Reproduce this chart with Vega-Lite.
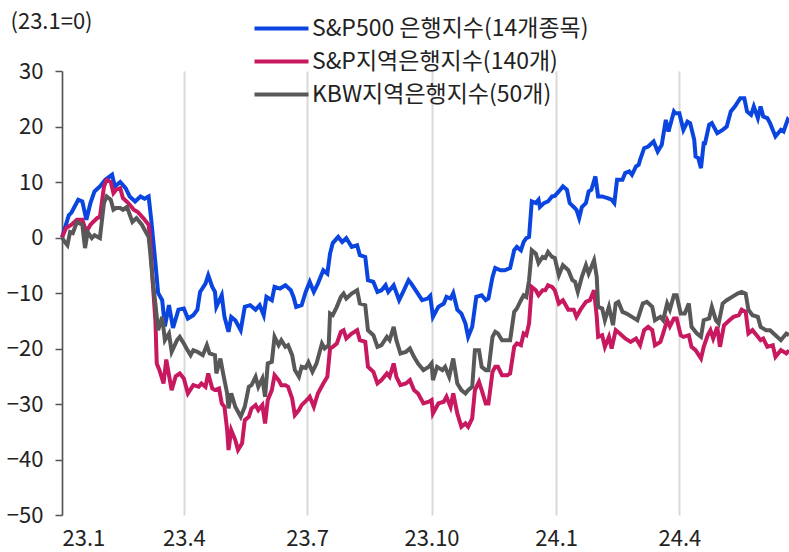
{
  "$schema": "https://vega.github.io/schema/vega-lite/v6.json",
  "width": 727,
  "height": 444,
  "autosize": {"type": "none"},
  "padding": {"left": 62, "top": 71, "right": 0, "bottom": 37},
  "config": {
    "font": "Noto Sans CJK KR",
    "view": {"stroke": null},
    "axis": {"labelFontSize": 22, "labelColor": "#222222", "titleFontWeight": "normal"}
  },
  "datasets": {
    "a": [
      {"date":"2023-01-01","v":0},{"date":"2023-01-06","v":4},{"date":"2023-01-08","v":4.5},{"date":"2023-01-13","v":6.8},{"date":"2023-01-16","v":6.5},{"date":"2023-01-19","v":3.2},{"date":"2023-01-22","v":6.2},{"date":"2023-01-25","v":8.3},{"date":"2023-01-29","v":9.2},{"date":"2023-02-02","v":10.4},{"date":"2023-02-07","v":11.3},{"date":"2023-02-09","v":9.2},{"date":"2023-02-13","v":10},{"date":"2023-02-17","v":8.9},{"date":"2023-02-20","v":7.4},{"date":"2023-02-24","v":6.5},{"date":"2023-02-28","v":7.4},{"date":"2023-03-03","v":7},{"date":"2023-03-06","v":7.4},{"date":"2023-03-08","v":3},{"date":"2023-03-11","v":-4.6},{"date":"2023-03-13","v":-10},{"date":"2023-03-16","v":-11.3},{"date":"2023-03-18","v":-16},{"date":"2023-03-21","v":-12.2},{"date":"2023-03-24","v":-16.3},{"date":"2023-03-28","v":-13},{"date":"2023-04-01","v":-12.8},{"date":"2023-04-04","v":-14.6},{"date":"2023-04-08","v":-14},{"date":"2023-04-11","v":-13},{"date":"2023-04-13","v":-9.8},{"date":"2023-04-17","v":-8.3},{"date":"2023-04-19","v":-6.8},{"date":"2023-04-22","v":-8.9},{"date":"2023-04-24","v":-9.8},{"date":"2023-04-25","v":-12.5},{"date":"2023-04-29","v":-10.4},{"date":"2023-05-01","v":-14.3},{"date":"2023-05-04","v":-17},{"date":"2023-05-06","v":-14.3},{"date":"2023-05-09","v":-14.9},{"date":"2023-05-13","v":-16.7},{"date":"2023-05-16","v":-12.5},{"date":"2023-05-20","v":-12.2},{"date":"2023-05-24","v":-13},{"date":"2023-05-27","v":-12.2},{"date":"2023-05-30","v":-14},{"date":"2023-06-01","v":-10.7},{"date":"2023-06-05","v":-11.3},{"date":"2023-06-07","v":-8.9},{"date":"2023-06-11","v":-9.2},{"date":"2023-06-15","v":-8.6},{"date":"2023-06-19","v":-9.5},{"date":"2023-06-21","v":-10.7},{"date":"2023-06-23","v":-12.5},{"date":"2023-06-27","v":-12.2},{"date":"2023-06-30","v":-9.8},{"date":"2023-07-03","v":-8},{"date":"2023-07-06","v":-9.8},{"date":"2023-07-09","v":-8.3},{"date":"2023-07-13","v":-5.9},{"date":"2023-07-16","v":-6.5},{"date":"2023-07-18","v":-2.9},{"date":"2023-07-20","v":-1},{"date":"2023-07-24","v":0.1},{"date":"2023-07-27","v":-0.8},{"date":"2023-07-30","v":-0.1},{"date":"2023-08-03","v":-1.7},{"date":"2023-08-07","v":-1.4},{"date":"2023-08-09","v":-3.2},{"date":"2023-08-13","v":-3.5},{"date":"2023-08-15","v":-7.7},{"date":"2023-08-19","v":-8},{"date":"2023-08-22","v":-9.8},{"date":"2023-08-25","v":-9.5},{"date":"2023-08-28","v":-8.6},{"date":"2023-08-30","v":-9.8},{"date":"2023-09-03","v":-8.6},{"date":"2023-09-07","v":-11.3},{"date":"2023-09-10","v":-9.8},{"date":"2023-09-14","v":-7.7},{"date":"2023-09-16","v":-8.3},{"date":"2023-09-20","v":-9.8},{"date":"2023-09-24","v":-11.3},{"date":"2023-09-28","v":-11},{"date":"2023-09-30","v":-10.5},{"date":"2023-10-02","v":-14.3},{"date":"2023-10-06","v":-12.5},{"date":"2023-10-10","v":-11.9},{"date":"2023-10-12","v":-10.7},{"date":"2023-10-15","v":-11},{"date":"2023-10-17","v":-10},{"date":"2023-10-20","v":-13},{"date":"2023-10-23","v":-13.7},{"date":"2023-10-26","v":-15.5},{"date":"2023-10-28","v":-17.9},{"date":"2023-10-31","v":-16.1},{"date":"2023-11-03","v":-10.7},{"date":"2023-11-07","v":-10.4},{"date":"2023-11-10","v":-11.3},{"date":"2023-11-12","v":-11},{"date":"2023-11-15","v":-7.1},{"date":"2023-11-17","v":-5.5},{"date":"2023-11-21","v":-5.9},{"date":"2023-11-24","v":-5.9},{"date":"2023-11-28","v":-5.5},{"date":"2023-12-01","v":-2.3},{"date":"2023-12-03","v":-1.7},{"date":"2023-12-06","v":-2.3},{"date":"2023-12-08","v":-0.8},{"date":"2023-12-10","v":-0.1},{"date":"2023-12-12","v":0.1},{"date":"2023-12-14","v":6.5},{"date":"2023-12-17","v":6.2},{"date":"2023-12-19","v":6.8},{"date":"2023-12-20","v":5.5},{"date":"2023-12-23","v":6.2},{"date":"2023-12-26","v":6.5},{"date":"2023-12-29","v":7.4},{"date":"2023-12-31","v":7.5},{"date":"2024-01-03","v":8.3},{"date":"2024-01-06","v":9.2},{"date":"2024-01-09","v":8.6},{"date":"2024-01-11","v":6.2},{"date":"2024-01-14","v":5.5},{"date":"2024-01-16","v":5},{"date":"2024-01-18","v":3.5},{"date":"2024-01-20","v":5.5},{"date":"2024-01-23","v":6.2},{"date":"2024-01-25","v":8.3},{"date":"2024-01-27","v":8.6},{"date":"2024-01-30","v":11},{"date":"2024-02-01","v":7.4},{"date":"2024-02-04","v":7.4},{"date":"2024-02-08","v":7.1},{"date":"2024-02-11","v":6.8},{"date":"2024-02-13","v":6.2},{"date":"2024-02-15","v":10.4},{"date":"2024-02-19","v":10.4},{"date":"2024-02-21","v":11.6},{"date":"2024-02-24","v":11.9},{"date":"2024-02-26","v":11.3},{"date":"2024-02-29","v":12.8},{"date":"2024-03-02","v":13.1},{"date":"2024-03-03","v":14},{"date":"2024-03-06","v":16.1},{"date":"2024-03-09","v":16.4},{"date":"2024-03-13","v":17.3},{"date":"2024-03-16","v":15.5},{"date":"2024-03-19","v":16.7},{"date":"2024-03-22","v":21.2},{"date":"2024-03-24","v":19.1},{"date":"2024-03-28","v":22.7},{"date":"2024-03-29","v":22.4},{"date":"2024-04-01","v":22.4},{"date":"2024-04-04","v":19.4},{"date":"2024-04-07","v":20.9},{"date":"2024-04-09","v":20.6},{"date":"2024-04-12","v":17.6},{"date":"2024-04-13","v":14.6},{"date":"2024-04-15","v":14.3},{"date":"2024-04-17","v":12.5},{"date":"2024-04-19","v":17},{"date":"2024-04-20","v":17},{"date":"2024-04-23","v":20.3},{"date":"2024-04-25","v":20.6},{"date":"2024-04-29","v":18.8},{"date":"2024-05-03","v":19.4},{"date":"2024-05-06","v":20},{"date":"2024-05-09","v":22.7},{"date":"2024-05-12","v":23.6},{"date":"2024-05-16","v":25.1},{"date":"2024-05-19","v":25.1},{"date":"2024-05-21","v":22.7},{"date":"2024-05-24","v":22.1},{"date":"2024-05-26","v":23.6},{"date":"2024-05-29","v":21.5},{"date":"2024-05-31","v":23.6},{"date":"2024-06-02","v":21.8},{"date":"2024-06-05","v":21.5},{"date":"2024-06-07","v":20.6},{"date":"2024-06-11","v":18.2},{"date":"2024-06-15","v":19.4},{"date":"2024-06-17","v":19.1},{"date":"2024-06-20","v":21.2},{"date":"2024-06-21","v":20.9}
    ],
    "b": [
      {"date":"2023-01-01","v":0},{"date":"2023-01-04","v":1.7},{"date":"2023-01-08","v":2.3},{"date":"2023-01-12","v":3.2},{"date":"2023-01-16","v":3.2},{"date":"2023-01-19","v":1},{"date":"2023-01-22","v":2.3},{"date":"2023-01-24","v":2.8},{"date":"2023-01-27","v":3.5},{"date":"2023-01-29","v":3.7},{"date":"2023-02-01","v":9.2},{"date":"2023-02-03","v":10.4},{"date":"2023-02-06","v":10},{"date":"2023-02-08","v":8},{"date":"2023-02-10","v":8.6},{"date":"2023-02-13","v":8.9},{"date":"2023-02-15","v":7.1},{"date":"2023-02-19","v":6.2},{"date":"2023-02-23","v":5},{"date":"2023-02-26","v":4.6},{"date":"2023-03-02","v":3.5},{"date":"2023-03-06","v":2.3},{"date":"2023-03-07","v":0},{"date":"2023-03-09","v":-8},{"date":"2023-03-11","v":-15},{"date":"2023-03-12","v":-22.7},{"date":"2023-03-14","v":-23.9},{"date":"2023-03-17","v":-26.3},{"date":"2023-03-19","v":-22},{"date":"2023-03-23","v":-27.5},{"date":"2023-03-26","v":-25},{"date":"2023-03-29","v":-24.5},{"date":"2023-04-01","v":-25.4},{"date":"2023-04-04","v":-28.1},{"date":"2023-04-08","v":-26.6},{"date":"2023-04-12","v":-26.9},{"date":"2023-04-14","v":-26.3},{"date":"2023-04-17","v":-26.9},{"date":"2023-04-19","v":-24.5},{"date":"2023-04-22","v":-27.2},{"date":"2023-04-24","v":-27.5},{"date":"2023-04-27","v":-27.2},{"date":"2023-04-29","v":-29.9},{"date":"2023-05-01","v":-30.5},{"date":"2023-05-03","v":-34.7},{"date":"2023-05-04","v":-38.3},{"date":"2023-05-06","v":-34.7},{"date":"2023-05-09","v":-36.5},{"date":"2023-05-11","v":-38.3},{"date":"2023-05-14","v":-37.1},{"date":"2023-05-16","v":-32.9},{"date":"2023-05-19","v":-32.3},{"date":"2023-05-21","v":-30.8},{"date":"2023-05-24","v":-30.2},{"date":"2023-05-26","v":-31.1},{"date":"2023-05-29","v":-30.2},{"date":"2023-05-31","v":-33.5},{"date":"2023-06-02","v":-29.3},{"date":"2023-06-05","v":-27.5},{"date":"2023-06-07","v":-24.8},{"date":"2023-06-10","v":-25.7},{"date":"2023-06-12","v":-26.6},{"date":"2023-06-15","v":-26.6},{"date":"2023-06-17","v":-26.9},{"date":"2023-06-20","v":-29},{"date":"2023-06-22","v":-32},{"date":"2023-06-25","v":-31.1},{"date":"2023-06-27","v":-30.2},{"date":"2023-06-30","v":-29.5},{"date":"2023-07-03","v":-28.7},{"date":"2023-07-06","v":-30.5},{"date":"2023-07-09","v":-28.1},{"date":"2023-07-13","v":-26.3},{"date":"2023-07-16","v":-25.1},{"date":"2023-07-18","v":-20},{"date":"2023-07-20","v":-19.7},{"date":"2023-07-23","v":-19.1},{"date":"2023-07-26","v":-17},{"date":"2023-07-28","v":-16.7},{"date":"2023-07-30","v":-18.2},{"date":"2023-08-03","v":-17.3},{"date":"2023-08-07","v":-16.7},{"date":"2023-08-09","v":-18.5},{"date":"2023-08-13","v":-18.8},{"date":"2023-08-15","v":-23.3},{"date":"2023-08-19","v":-24.2},{"date":"2023-08-22","v":-26.3},{"date":"2023-08-25","v":-25.7},{"date":"2023-08-29","v":-24.5},{"date":"2023-08-31","v":-25.1},{"date":"2023-09-03","v":-22.7},{"date":"2023-09-05","v":-25.1},{"date":"2023-09-08","v":-26.6},{"date":"2023-09-12","v":-26.3},{"date":"2023-09-15","v":-25.7},{"date":"2023-09-18","v":-27.5},{"date":"2023-09-21","v":-28.1},{"date":"2023-09-25","v":-29.9},{"date":"2023-09-29","v":-29.6},{"date":"2023-10-01","v":-29.3},{"date":"2023-10-02","v":-31.7},{"date":"2023-10-06","v":-29.9},{"date":"2023-10-10","v":-29.6},{"date":"2023-10-12","v":-28.7},{"date":"2023-10-15","v":-30.5},{"date":"2023-10-17","v":-28.1},{"date":"2023-10-20","v":-31.7},{"date":"2023-10-23","v":-34.1},{"date":"2023-10-26","v":-33.5},{"date":"2023-10-28","v":-34.1},{"date":"2023-10-31","v":-32.6},{"date":"2023-11-02","v":-27.5},{"date":"2023-11-05","v":-26},{"date":"2023-11-07","v":-27.5},{"date":"2023-11-10","v":-29.9},{"date":"2023-11-12","v":-29.9},{"date":"2023-11-15","v":-24.2},{"date":"2023-11-17","v":-23.3},{"date":"2023-11-19","v":-23.3},{"date":"2023-11-22","v":-24.8},{"date":"2023-11-26","v":-24.8},{"date":"2023-11-28","v":-24.5},{"date":"2023-12-01","v":-19.7},{"date":"2023-12-03","v":-19.1},{"date":"2023-12-06","v":-19.4},{"date":"2023-12-08","v":-17.3},{"date":"2023-12-10","v":-17.6},{"date":"2023-12-12","v":-15.5},{"date":"2023-12-14","v":-8.9},{"date":"2023-12-17","v":-9.5},{"date":"2023-12-19","v":-10.4},{"date":"2023-12-22","v":-9.5},{"date":"2023-12-24","v":-9.5},{"date":"2023-12-26","v":-8.6},{"date":"2023-12-29","v":-8.9},{"date":"2023-12-31","v":-9.5},{"date":"2024-01-03","v":-11.9},{"date":"2024-01-06","v":-11.3},{"date":"2024-01-10","v":-13},{"date":"2024-01-14","v":-13},{"date":"2024-01-16","v":-14.3},{"date":"2024-01-19","v":-13},{"date":"2024-01-23","v":-11.6},{"date":"2024-01-26","v":-11.3},{"date":"2024-01-29","v":-9.5},{"date":"2024-01-31","v":-14.3},{"date":"2024-02-01","v":-17.9},{"date":"2024-02-04","v":-17.6},{"date":"2024-02-06","v":-19.7},{"date":"2024-02-09","v":-17.9},{"date":"2024-02-11","v":-20},{"date":"2024-02-14","v":-16.7},{"date":"2024-02-17","v":-17.3},{"date":"2024-02-21","v":-18.2},{"date":"2024-02-25","v":-18.8},{"date":"2024-02-29","v":-18.2},{"date":"2024-03-03","v":-19.4},{"date":"2024-03-06","v":-16.7},{"date":"2024-03-09","v":-16.1},{"date":"2024-03-12","v":-16.7},{"date":"2024-03-14","v":-19.4},{"date":"2024-03-18","v":-18.8},{"date":"2024-03-20","v":-17.3},{"date":"2024-03-23","v":-14.9},{"date":"2024-03-25","v":-16},{"date":"2024-03-28","v":-14.6},{"date":"2024-03-30","v":-14.6},{"date":"2024-04-02","v":-17.6},{"date":"2024-04-04","v":-17.9},{"date":"2024-04-08","v":-17.6},{"date":"2024-04-10","v":-19.7},{"date":"2024-04-13","v":-20.3},{"date":"2024-04-17","v":-21.8},{"date":"2024-04-19","v":-19.7},{"date":"2024-04-22","v":-17.6},{"date":"2024-04-24","v":-16.7},{"date":"2024-04-26","v":-18.2},{"date":"2024-04-29","v":-16.1},{"date":"2024-05-01","v":-19.7},{"date":"2024-05-04","v":-15.8},{"date":"2024-05-08","v":-14.9},{"date":"2024-05-11","v":-14.3},{"date":"2024-05-15","v":-14},{"date":"2024-05-17","v":-13},{"date":"2024-05-20","v":-13.4},{"date":"2024-05-22","v":-17.3},{"date":"2024-05-25","v":-16.7},{"date":"2024-05-29","v":-17.9},{"date":"2024-05-31","v":-18.5},{"date":"2024-06-02","v":-18.2},{"date":"2024-06-05","v":-19.7},{"date":"2024-06-09","v":-19.4},{"date":"2024-06-11","v":-21.5},{"date":"2024-06-15","v":-20.3},{"date":"2024-06-19","v":-20.9},{"date":"2024-06-21","v":-20.3}
    ],
    "c": [
      {"date":"2023-01-01","v":0},{"date":"2023-01-03","v":-0.8},{"date":"2023-01-05","v":-1.4},{"date":"2023-01-07","v":1},{"date":"2023-01-09","v":0.8},{"date":"2023-01-12","v":2.8},{"date":"2023-01-16","v":2.3},{"date":"2023-01-18","v":-1.9},{"date":"2023-01-20","v":1},{"date":"2023-01-23","v":-0.1},{"date":"2023-01-25","v":0.4},{"date":"2023-01-29","v":-0.1},{"date":"2023-02-01","v":6.2},{"date":"2023-02-03","v":7.4},{"date":"2023-02-06","v":6.8},{"date":"2023-02-08","v":5},{"date":"2023-02-10","v":5.3},{"date":"2023-02-13","v":5.3},{"date":"2023-02-15","v":5},{"date":"2023-02-18","v":5.5},{"date":"2023-02-22","v":2.8},{"date":"2023-02-25","v":3.5},{"date":"2023-03-01","v":2.3},{"date":"2023-03-03","v":1.4},{"date":"2023-03-06","v":0.1},{"date":"2023-03-07","v":-2.3},{"date":"2023-03-09","v":-7.7},{"date":"2023-03-11","v":-12},{"date":"2023-03-13","v":-16.7},{"date":"2023-03-16","v":-14.3},{"date":"2023-03-18","v":-18.5},{"date":"2023-03-21","v":-17.3},{"date":"2023-03-23","v":-20.6},{"date":"2023-03-27","v":-18.5},{"date":"2023-03-29","v":-17.9},{"date":"2023-04-01","v":-19.1},{"date":"2023-04-03","v":-20},{"date":"2023-04-06","v":-21.2},{"date":"2023-04-08","v":-20.3},{"date":"2023-04-11","v":-20.6},{"date":"2023-04-13","v":-20.9},{"date":"2023-04-15","v":-21.2},{"date":"2023-04-18","v":-19.4},{"date":"2023-04-20","v":-20.9},{"date":"2023-04-24","v":-21.2},{"date":"2023-04-25","v":-24.5},{"date":"2023-04-28","v":-21.8},{"date":"2023-04-30","v":-24.5},{"date":"2023-05-03","v":-28.1},{"date":"2023-05-04","v":-30.8},{"date":"2023-05-06","v":-28.1},{"date":"2023-05-09","v":-30.5},{"date":"2023-05-13","v":-32.3},{"date":"2023-05-16","v":-30.5},{"date":"2023-05-19","v":-26.9},{"date":"2023-05-21","v":-26.6},{"date":"2023-05-24","v":-25.1},{"date":"2023-05-26","v":-26.9},{"date":"2023-05-29","v":-25.4},{"date":"2023-05-31","v":-28.7},{"date":"2023-06-02","v":-22.7},{"date":"2023-06-05","v":-22.4},{"date":"2023-06-07","v":-17.9},{"date":"2023-06-10","v":-19.4},{"date":"2023-06-12","v":-18.5},{"date":"2023-06-15","v":-19.7},{"date":"2023-06-17","v":-19.4},{"date":"2023-06-20","v":-21.2},{"date":"2023-06-22","v":-23.9},{"date":"2023-06-25","v":-25.1},{"date":"2023-06-27","v":-23.3},{"date":"2023-06-30","v":-23.5},{"date":"2023-07-02","v":-22.5},{"date":"2023-07-05","v":-24.2},{"date":"2023-07-08","v":-22.7},{"date":"2023-07-12","v":-19.1},{"date":"2023-07-14","v":-20},{"date":"2023-07-17","v":-19.4},{"date":"2023-07-18","v":-13.7},{"date":"2023-07-20","v":-14},{"date":"2023-07-23","v":-12.5},{"date":"2023-07-26","v":-10.7},{"date":"2023-07-28","v":-10.1},{"date":"2023-07-30","v":-11},{"date":"2023-08-03","v":-10.1},{"date":"2023-08-07","v":-9.5},{"date":"2023-08-09","v":-11.9},{"date":"2023-08-13","v":-12.2},{"date":"2023-08-15","v":-16.7},{"date":"2023-08-19","v":-17.6},{"date":"2023-08-22","v":-19.7},{"date":"2023-08-25","v":-19.4},{"date":"2023-08-29","v":-17.9},{"date":"2023-08-31","v":-18.5},{"date":"2023-09-03","v":-16.1},{"date":"2023-09-05","v":-18.5},{"date":"2023-09-08","v":-20.9},{"date":"2023-09-12","v":-20.6},{"date":"2023-09-15","v":-20},{"date":"2023-09-18","v":-21.5},{"date":"2023-09-21","v":-22.7},{"date":"2023-09-25","v":-23.9},{"date":"2023-09-29","v":-23.3},{"date":"2023-10-01","v":-22.7},{"date":"2023-10-02","v":-25.7},{"date":"2023-10-05","v":-23.3},{"date":"2023-10-09","v":-23.9},{"date":"2023-10-11","v":-23.3},{"date":"2023-10-14","v":-25.1},{"date":"2023-10-17","v":-21.8},{"date":"2023-10-20","v":-26.3},{"date":"2023-10-23","v":-27.5},{"date":"2023-10-26","v":-28.1},{"date":"2023-10-28","v":-27.5},{"date":"2023-10-31","v":-26.9},{"date":"2023-11-02","v":-20.3},{"date":"2023-11-05","v":-20.3},{"date":"2023-11-07","v":-23.3},{"date":"2023-11-10","v":-23.9},{"date":"2023-11-12","v":-23.9},{"date":"2023-11-15","v":-17.9},{"date":"2023-11-17","v":-17},{"date":"2023-11-19","v":-17.3},{"date":"2023-11-22","v":-18.5},{"date":"2023-11-26","v":-18.5},{"date":"2023-11-28","v":-18.5},{"date":"2023-12-01","v":-13.4},{"date":"2023-12-03","v":-12.8},{"date":"2023-12-06","v":-11.3},{"date":"2023-12-08","v":-10.4},{"date":"2023-12-10","v":-10.7},{"date":"2023-12-12","v":-7.7},{"date":"2023-12-14","v":-2.3},{"date":"2023-12-17","v":-2.9},{"date":"2023-12-19","v":-4.6},{"date":"2023-12-22","v":-3.5},{"date":"2023-12-24","v":-3.7},{"date":"2023-12-26","v":-2.6},{"date":"2023-12-29","v":-3.5},{"date":"2023-12-31","v":-3.7},{"date":"2024-01-03","v":-6.8},{"date":"2024-01-06","v":-5},{"date":"2024-01-10","v":-5.9},{"date":"2024-01-13","v":-7.7},{"date":"2024-01-15","v":-8},{"date":"2024-01-17","v":-9.8},{"date":"2024-01-20","v":-7.1},{"date":"2024-01-23","v":-5},{"date":"2024-01-25","v":-6.5},{"date":"2024-01-27","v":-5.3},{"date":"2024-01-29","v":-4.1},{"date":"2024-01-31","v":-7.1},{"date":"2024-02-01","v":-12.5},{"date":"2024-02-04","v":-12.8},{"date":"2024-02-06","v":-14.9},{"date":"2024-02-09","v":-12.5},{"date":"2024-02-12","v":-15.8},{"date":"2024-02-14","v":-11.9},{"date":"2024-02-16","v":-11.6},{"date":"2024-02-19","v":-13.4},{"date":"2024-02-22","v":-13.7},{"date":"2024-02-26","v":-14.3},{"date":"2024-03-01","v":-14.9},{"date":"2024-03-05","v":-11.9},{"date":"2024-03-08","v":-11.6},{"date":"2024-03-12","v":-12.5},{"date":"2024-03-14","v":-14.9},{"date":"2024-03-18","v":-14.3},{"date":"2024-03-20","v":-14.9},{"date":"2024-03-23","v":-11.9},{"date":"2024-03-25","v":-13},{"date":"2024-03-28","v":-10.4},{"date":"2024-03-30","v":-10.4},{"date":"2024-04-02","v":-13.7},{"date":"2024-04-05","v":-13.7},{"date":"2024-04-08","v":-11.9},{"date":"2024-04-10","v":-16.1},{"date":"2024-04-14","v":-17.3},{"date":"2024-04-17","v":-17.9},{"date":"2024-04-19","v":-14.9},{"date":"2024-04-23","v":-14.6},{"date":"2024-04-25","v":-12.5},{"date":"2024-04-28","v":-14.9},{"date":"2024-04-30","v":-15.5},{"date":"2024-05-03","v":-11.9},{"date":"2024-05-06","v":-11.3},{"date":"2024-05-10","v":-10.7},{"date":"2024-05-14","v":-10.1},{"date":"2024-05-17","v":-9.8},{"date":"2024-05-20","v":-10.1},{"date":"2024-05-22","v":-13},{"date":"2024-05-25","v":-14},{"date":"2024-05-29","v":-14.3},{"date":"2024-05-31","v":-16.1},{"date":"2024-06-04","v":-16.7},{"date":"2024-06-07","v":-16.7},{"date":"2024-06-11","v":-17.6},{"date":"2024-06-15","v":-18.5},{"date":"2024-06-19","v":-17.3},{"date":"2024-06-21","v":-17.6}
    ],
    "q": [
      {"date":"2023-04-01"},{"date":"2023-07-01"},{"date":"2023-10-01"},{"date":"2024-01-01"},{"date":"2024-04-01"}
    ]
  },
  "encoding": {
    "x": {
      "field": "date", "type": "temporal",
      "scale": {"type": "utc", "domain": [{"year": 2023, "month": 1, "date": 1, "utc": true}, {"year": 2024, "month": 6, "date": 21, "utc": true}]},
      "axis": {
        "title": null,
        "values": [
          {"year": 2023, "month": 1, "date": 1, "utc": true},
          {"year": 2023, "month": 4, "date": 1, "utc": true},
          {"year": 2023, "month": 7, "date": 1, "utc": true},
          {"year": 2023, "month": 10, "date": 1, "utc": true},
          {"year": 2024, "month": 1, "date": 1, "utc": true},
          {"year": 2024, "month": 4, "date": 1, "utc": true}
        ],
        "labelExpr": "utcFormat(datum.value, '%y') + '.' + (utcmonth(datum.value) + 1)",
        "domain": false, "ticks": false, "grid": true, "gridColor": "#d9d9d9", "gridWidth": 2,
        "labelPadding": 13
      }
    },
    "y": {
      "field": "v", "type": "quantitative",
      "scale": {"domain": [-50, 30], "nice": false, "zero": false},
      "axis": {
        "values": [-50, -40, -30, -20, -10, 0, 10, 20, 30],
        "grid": false, "domain": true, "domainColor": "#555555", "domainWidth": 1.5,
        "ticks": true, "tickColor": "#555555", "tickSize": 7, "tickWidth": 1.5, "labelPadding": 12,
        "title": "(23.1=0)", "titleAngle": 0, "titleAlign": "left", "titleBaseline": "middle",
        "titleX": -52, "titleY": -50, "titleFontSize": 22, "titleColor": "#222222"
      }
    }
  },
  "layer": [
    {
      "data": {"name": "q"},
      "mark": {"type": "rule", "color": "#444444", "strokeWidth": 1.5},
      "encoding": {"y": {"datum": 0}, "y2": {"datum": -0.8}}
    },
    {
      "mark": {"type": "rule", "color": "#444444", "strokeWidth": 1.5},
      "encoding": {"x": null, "y": {"datum": 0}}
    },
    {
      "data": {"name": "a"},
      "mark": {"type": "line", "strokeWidth": 4},
      "encoding": {"color": {"datum": "S&P500 은행지수(14개종목)"}}
    },
    {
      "data": {"name": "b"},
      "mark": {"type": "line", "strokeWidth": 4},
      "encoding": {"color": {"datum": "S&P지역은행지수(140개)"}}
    },
    {
      "data": {"name": "c"},
      "mark": {"type": "line", "strokeWidth": 4},
      "encoding": {
        "color": {
          "datum": "KBW지역은행지수(50개)",
          "type": "nominal",
          "scale": {
            "domain": ["S&P500 은행지수(14개종목)", "S&P지역은행지수(140개)", "KBW지역은행지수(50개)"],
            "range": ["#0A45E0", "#C8185F", "#585858"]
          },
          "legend": {
            "title": null, "orient": "none", "legendX": 208, "legendY": -54, "padding": 0,
            "symbolType": "M-3,0H3", "symbolSize": 324, "symbolStrokeWidth": 4,
            "labelFontSize": 23, "labelColor": "#222222", "labelLimit": 400, "labelOffset": 19,
            "rowPadding": 9
          }
        }
      }
    }
  ]
}
